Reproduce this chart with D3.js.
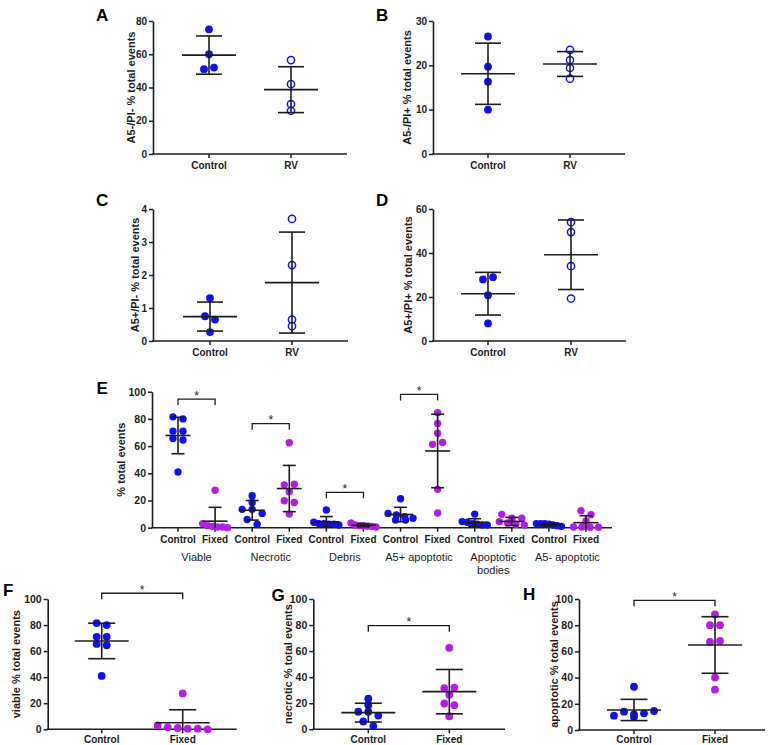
<!DOCTYPE html>
<html><head><meta charset="utf-8">
<script src="https://cdn.jsdelivr.net/npm/d3@7"></script>
<style>
body{margin:0;background:#fff}
svg{display:block;font-family:"Liberation Sans",Arial,Helvetica,sans-serif}
</style>
</head><body>
<svg id="chart" width="771" height="745"></svg>
<script>
// ---------------- DATA ----------------
// Panels A–D (Control vs RV, n=4)
const rvCategories = ["Control", "RV"];
const aControl = [75, 60, 51, 52],   aRV = [56.5, 42, 30, 26];
const aMean = [59.5, 38.7],          aSD = [11.5, 13.8];
const bControl = [26.5, 19.7, 16.3, 10], bRV = [23.5, 21.2, 19.4, 17];
const bMean = [18.1, 20.3],          bSD = [6.9, 2.8];
const cControl = [1.3, 0.75, 0.65, 0.27], cRV = [3.7, 2.3, 0.65, 0.45];
const cMean = [0.74, 1.77],          cSD = [0.44, 1.53];
const dControl = [28, 29, 20.8, 8],  dRV = [54, 49.5, 34, 19.3];
const dMean = [21.5, 39.2],          dSD = [9.7, 15.8];
const aTicks = [0, 20, 40, 60, 80], bTicks = [0, 10, 20, 30], cTicks = [0, 1, 2, 3, 4], dTicks = [0, 20, 40, 60];
const yTitlesAD = ["A5-/PI- % total events", "A5-/PI+ % total events", "A5+/PI- %  total events", "A5+/PI+ % total events"];

// Panel E (Control vs Fixed, n=7, six populations)
const eGroups = ["Viable", "Necrotic", "Debris", "A5+ apoptotic", "Apoptotic bodies", "A5- apoptotic"];
const conditions = ["Control", "Fixed"];
const viableControl = [81.5, 80, 71, 71, 65.5, 64.5, 41];
const viableFixed = [27.5, 3, 1.5, 1, 0.5, 0.5, 0];
const necroticControl = [23.5, 18.5, 13.5, 13.5, 10.5, 6, 2.5];
const necroticFixed = [62.5, 31.5, 32, 26.5, 19.8, 18.5, 10];
const debrisControl = [13, 4, 3, 3, 2.5, 2.5, 2];
const debrisFixed = [3.5, 2, 1.5, 1.5, 1, 1, 0.5];
const a5posControl = [21.3, 10.5, 9.3, 8, 6.9, 5.6, 5.6];
const a5posFixed = [84.6, 76.7, 69.4, 61.3, 62.7, 28.2, 10.8];
const bodiesControl = [10, 4.5, 4, 3, 2.5, 2, 2];
const bodiesFixed = [9.8, 6.9, 6.9, 4.5, 3.5, 2.5, 2];
const a5negControl = [3, 3, 3, 2.5, 2, 1.5, 1];
const a5negFixed = [12.5, 9.6, 4.9, 0.5, 0.5, 0.3, 0.3];
const eMeans = [[67.8, 4.8], [12.8, 28.8], [4.3, 1.8], [9.7, 56.4], [3.8, 4.6], [2.2, 3.7]];
const eSDs   = [[13.4, 10.2], [7.2, 17.0], [3.9, 1.2], [5.3, 27.0], [2.8, 3.0], [0.9, 5.1]];
const eSigGroups = [0, 1, 2, 3];
const eSigLevels = [94.6, 76.5, 26, 98];
const pctTicks = [0, 20, 40, 60, 80, 100];

// Panels F–H
const hControl = [33, 10.9, 14, 12, 12.7, 14.5, 9.9];
const hFixed = [88.3, 80, 80, 67.2, 68, 40, 30.8];
const fMean = [67.8, 5.0], fSD = [13.6, 10.0];
const gMean = [12.8, 28.9], gSD = [7.2, 17.0];
const hMean = [15.3, 64.9], hSD = [8.1, 21.6];
const fghSigLevels = [104.4, 79.5, 99];
const fghTitles = ["viable % total events", "necrotic % total events", "apoptotic % total events"];

// ---------------- DRAWING ----------------
const BLUE = "#1010f2", PURPLE = "#b41ee4", INK = "#1c1c1c";
const svg = d3.select("#chart");

function rowOffsets(vals, y, spacing, maxSpread, thresh) {
  const idx = vals.map((v, i) => i).sort((a, b) => vals[b] - vals[a]);
  const rows = []; let cur = null;
  idx.forEach(i => {
    const py = y(vals[i]);
    if (cur && Math.abs(py - cur.y0) < thresh) cur.items.push(i);
    else { cur = { y0: py, items: [i] }; rows.push(cur); }
  });
  const off = new Array(vals.length).fill(0);
  rows.forEach(row => {
    row.items.sort((a, b) => a - b);
    const k = row.items.length;
    const sp = k > 1 ? Math.min(spacing, maxSpread / (k - 1)) : 0;
    row.items.forEach((i, j) => off[i] = (j - (k - 1) / 2) * sp);
  });
  return off;
}

function drawAxes(g, L, y, x, keys, ticks, tickFont) {
  const ya = d3.axisLeft(y).tickValues(ticks).tickSize(4).tickSizeOuter(0).tickPadding(2).tickFormat(d3.format("d"));
  const ag = g.append("g").attr("transform", `translate(${L.x0},0)`).call(ya);
  ag.select(".domain").attr("stroke", INK).attr("stroke-width", 1.6);
  ag.selectAll(".tick line").attr("stroke", INK).attr("stroke-width", 1.5);
  ag.selectAll(".tick text").attr("fill", INK).attr("font-size", tickFont).attr("font-weight", "bold")
    .attr("font-family", '"Liberation Sans",Arial,sans-serif');
  g.append("line").attr("x1", L.x0 - 0.8).attr("x2", L.x1).attr("y1", L.yBot).attr("y2", L.yBot)
    .attr("stroke", INK).attr("stroke-width", 1.6);
  keys.forEach(k => g.append("line").attr("x1", x(k)).attr("x2", x(k)).attr("y1", L.yBot).attr("y2", L.yBot + 4)
    .attr("stroke", INK).attr("stroke-width", 1.5));
}

function drawSeries(g, vals, cx, y, mean, sd, opt) {
  const off = rowOffsets(vals, y, opt.spacing, opt.maxSpread, 5);
  g.append("g").selectAll("circle").data(vals).join("circle")
    .attr("cx", (d, i) => cx + off[i]).attr("cy", d => y(d)).attr("r", opt.r)
    .attr("fill", opt.open ? "#fff" : opt.color)
    .attr("stroke", opt.open ? opt.color : "none").attr("stroke-width", opt.open ? 1.5 : 0);
  const eb = g.append("g").attr("stroke", INK).attr("stroke-width", 1.6).attr("fill", "none");
  const lo = mean - sd, hi = mean + sd;
  const yLo = y(Math.max(lo, 0));
  eb.append("line").attr("x1", cx).attr("x2", cx).attr("y1", y(hi)).attr("y2", yLo);
  eb.append("line").attr("x1", cx - opt.meanHalf).attr("x2", cx + opt.meanHalf).attr("y1", y(mean)).attr("y2", y(mean));
  eb.append("line").attr("x1", cx - opt.capHalf).attr("x2", cx + opt.capHalf).attr("y1", y(hi)).attr("y2", y(hi));
  if (lo >= 0) eb.append("line").attr("x1", cx - opt.capHalf).attr("x2", cx + opt.capHalf).attr("y1", y(lo)).attr("y2", y(lo));
}

function letter(t, x, yb) {
  svg.append("text").attr("x", x).attr("y", yb).text(t).attr("font-size", 17).attr("font-weight", "bold").attr("fill", "#000");
}
function yTitle(t, x, yc, size) {
  svg.append("text").attr("transform", `translate(${x},${yc}) rotate(-90)`).attr("text-anchor", "middle")
    .attr("dy", "0.35em").attr("font-size", size).attr("font-weight", "bold").attr("fill", INK).text(t);
}
function bracket(x1, x2, yl, depth) {
  svg.append("path").attr("d", `M${x1},${yl + depth}V${yl}H${x2}V${yl + depth}`)
    .attr("fill", "none").attr("stroke", INK).attr("stroke-width", 1.3);
  svg.append("text").attr("x", (x1 + x2) / 2).attr("y", yl + 0.5).attr("text-anchor", "middle")
    .attr("font-size", 12).attr("fill", INK).text("*");
}

// ---- A–D ----
const adPanels = [
  { L: { x0: 153, x1: 347, yTop: 21, yBot: 154, c0: 209, c1: 291, lx: 96, ly: 20.7, tx: 131 }, ctrl: aControl, rv: aRV, mean: aMean, sd: aSD, ticks: aTicks, letter: "A", title: yTitlesAD[0] },
  { L: { x0: 433, x1: 625, yTop: 21, yBot: 154, c0: 488, c1: 570, lx: 376, ly: 20.7, tx: 407.5 }, ctrl: bControl, rv: bRV, mean: bMean, sd: bSD, ticks: bTicks, letter: "B", title: yTitlesAD[1] },
  { L: { x0: 153, x1: 348, yTop: 209, yBot: 341, c0: 210, c1: 292, lx: 96, ly: 206, tx: 134.7 }, ctrl: cControl, rv: cRV, mean: cMean, sd: cSD, ticks: cTicks, letter: "C", title: yTitlesAD[2] },
  { L: { x0: 433, x1: 626, yTop: 209, yBot: 341, c0: 488, c1: 571, lx: 376, ly: 206, tx: 408 }, ctrl: dControl, rv: dRV, mean: dMean, sd: dSD, ticks: dTicks, letter: "D", title: yTitlesAD[3] }
];
adPanels.forEach(p => {
  const L = p.L, g = svg.append("g");
  const y = d3.scaleLinear().domain([0, d3.max(p.ticks)]).range([L.yBot, L.yTop]);
  const x = d3.scalePoint().domain(rvCategories).range([L.c0, L.c1]);
  drawAxes(g, L, y, x, rvCategories, p.ticks, 10);
  rvCategories.forEach(c => g.append("text").attr("x", x(c)).attr("y", L.yBot + 14.5).attr("text-anchor", "middle")
    .attr("font-size", 10).attr("font-weight", "bold").attr("fill", INK).text(c));
  const opt = { r: 3.9, spacing: 10, maxSpread: 30, meanHalf: 27, capHalf: 13, color: BLUE };
  drawSeries(g, p.ctrl, x("Control"), y, p.mean[0], p.sd[0], opt);
  drawSeries(g, p.rv, x("RV"), y, p.mean[1], p.sd[1], Object.assign({}, opt, { open: true, r: 3.6 }));
  letter(p.letter, L.lx, L.ly);
  yTitle(p.title, L.tx, (L.yTop + L.yBot) / 2, 11);
});

// ---- E ----
(function () {
  const L = { x0: 152, x1: 612, yTop: 391.7, yBot: 527.7, c0: 178, c1: 586 };
  const g = svg.append("g");
  const keys = [];
  eGroups.forEach(gr => conditions.forEach(c => keys.push(gr + "|" + c)));
  const x = d3.scalePoint().domain(keys).range([L.c0, L.c1]);
  const y = d3.scaleLinear().domain([0, 100]).range([L.yBot, L.yTop]);
  drawAxes(g, L, y, x, keys, pctTicks, 10.5);
  const eData = [[viableControl, viableFixed], [necroticControl, necroticFixed], [debrisControl, debrisFixed],
                 [a5posControl, a5posFixed], [bodiesControl, bodiesFixed], [a5negControl, a5negFixed]];
  eGroups.forEach((gr, gi) => {
    conditions.forEach((c, ci) => {
      const cx = x(gr + "|" + c);
      drawSeries(g, eData[gi][ci], cx, y, eMeans[gi][ci], eSDs[gi][ci],
        { r: 3.7, spacing: 10, maxSpread: 25, meanHalf: 12.5, capHalf: 6.5, color: ci ? PURPLE : BLUE });
      g.append("text").attr("x", cx).attr("y", 543).attr("text-anchor", "middle").attr("font-size", 10)
        .attr("font-weight", "bold").attr("fill", INK).text(c);
    });
    const mid = (x(gr + "|Control") + x(gr + "|Fixed")) / 2;
    const words = gr === "Apoptotic bodies" ? ["Apoptotic", "bodies"] : [gr];
    words.forEach((w, wi) => g.append("text").attr("x", mid).attr("y", 560.5 + wi * 13).attr("text-anchor", "middle")
      .attr("font-size", 11).attr("fill", INK).text(w));
  });
  eSigGroups.forEach((gi, k) => bracket(x(eGroups[gi] + "|Control"), x(eGroups[gi] + "|Fixed"), y(eSigLevels[k]), 6));
  letter("E", 96.5, 394.3);
  yTitle("% total events", 121.3, (L.yTop + L.yBot) / 2, 11);
})();

// ---- F–H ----
const fghPanels = [
  { L: { x0: 47.7, x1: 236.7, yTop: 599, yBot: 729.3, c0: 101.7, c1: 182.7, lx: 3, ly: 595.5, tx: 16 }, ctrl: viableControl, fix: viableFixed, mean: fMean, sd: fSD, letter: "F" },
  { L: { x0: 313.3, x1: 505, yTop: 599, yBot: 729.3, c0: 368.3, c1: 449.3, lx: 271.5, ly: 600.7, tx: 288 }, ctrl: necroticControl, fix: necroticFixed, mean: gMean, sd: gSD, letter: "G" },
  { L: { x0: 579, x1: 765, yTop: 599, yBot: 730, c0: 634, c1: 715, lx: 523, ly: 599.5, tx: 554 }, ctrl: hControl, fix: hFixed, mean: hMean, sd: hSD, letter: "H" }
];
fghPanels.forEach((p, pi) => {
  const L = p.L, g = svg.append("g");
  const y = d3.scaleLinear().domain([0, 100]).range([L.yBot, L.yTop]);
  const x = d3.scalePoint().domain(conditions).range([L.c0, L.c1]);
  drawAxes(g, L, y, x, conditions, pctTicks, 10.5);
  conditions.forEach(c => g.append("text").attr("x", x(c)).attr("y", 742.5).attr("text-anchor", "middle")
    .attr("font-size", 10).attr("font-weight", "bold").attr("fill", INK).text(c));
  const opt = { r: 3.9, spacing: 10, maxSpread: 50, meanHalf: 27, capHalf: 13.5 };
  drawSeries(g, p.ctrl, x("Control"), y, p.mean[0], p.sd[0], Object.assign({ color: BLUE }, opt));
  drawSeries(g, p.fix, x("Fixed"), y, p.mean[1], p.sd[1], Object.assign({ color: PURPLE }, opt));
  bracket(x("Control"), x("Fixed"), y(fghSigLevels[pi]), 6);
  letter(p.letter, L.lx, L.ly);
  yTitle(fghTitles[pi], L.tx, (L.yTop + L.yBot) / 2, 11);
});
</script>
</body></html>
